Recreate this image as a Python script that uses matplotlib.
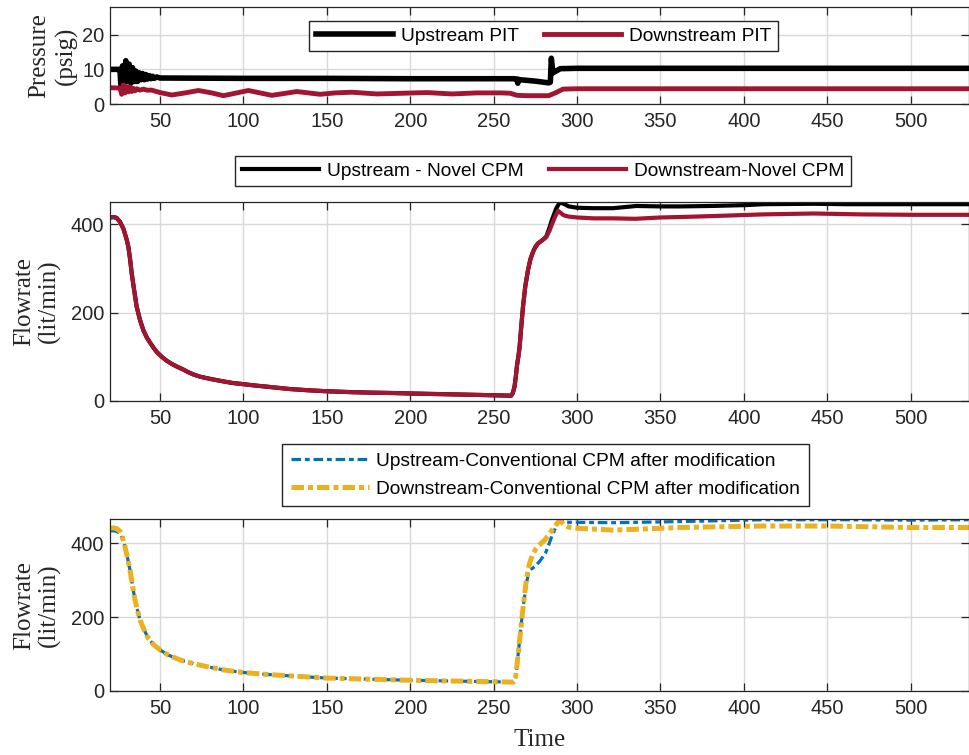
import matplotlib
matplotlib.use("Agg")
import matplotlib.pyplot as plt

# ---------------- data ----------------
# Panel 1: pressure (psig)
t_up_pit = [20, 25, 26, 26.5, 27.5, 28.5, 29.5, 30.5, 31.5, 32.5, 33.5, 34.5, 35.5, 36.5,
            37.5, 38.5, 39.5, 40.5, 41.5, 42.5, 43.5, 44.5, 45.5, 46.5, 48, 50, 100, 150,
            200, 262, 264, 264.5, 265, 266, 275, 283, 284, 284.6, 285.5, 287, 290, 300,
            400, 535]
p_up_pit = [10, 10, 9.8, 5.5, 11, 6, 12.5, 6.5, 11.5, 6, 10.5, 6.5, 9.5, 6.5,
            9, 7, 8.8, 7, 8.5, 7.2, 8.2, 7.3, 8, 7.4, 7.8, 7.5, 7.4, 7.4,
            7.3, 7.3, 7.2, 6.0, 7.1, 7.0, 6.6, 6.1, 6.3, 13.2, 9.0, 9.4, 10.2, 10.3,
            10.3, 10.3]

t_dn_pit = [20, 26, 27, 28, 29, 30, 31, 32, 33, 34, 35, 36, 38, 40, 42, 45, 50, 57, 65,
            73, 80, 88, 95, 103, 110, 117, 124, 132, 139, 146, 155, 165, 180, 195, 210,
            225, 240, 255, 260, 264, 270, 283, 287, 291.6, 300, 400, 535]
p_dn_pit = [4.7, 4.6, 2.8, 5.5, 3.2, 5.0, 3.5, 4.8, 3.6, 4.5, 3.8, 4.4, 4.0, 4.3, 4.0,
            4.0, 3.3, 2.6, 3.2, 3.9, 3.3, 2.4, 3.1, 3.9, 3.2, 2.5, 3.0, 3.6, 3.2, 2.8,
            3.2, 3.4, 2.9, 3.1, 3.3, 2.9, 3.2, 3.2, 3.1, 2.5, 2.4, 2.4, 3.2, 4.3, 4.4,
            4.4, 4.4]

# Panel 2: novel CPM flowrate (lit/min)
t_novel_dn = [20, 22, 24, 26, 28, 30, 31, 32, 33, 34.5, 36, 38, 40, 42, 44, 46, 48, 51,
              54, 57, 60, 64, 67, 70, 74, 80, 87, 93, 100, 107, 115, 128, 140, 150, 165,
              175, 190, 200, 225, 250, 260.5, 261.5, 262.5, 263.3, 264, 265, 265.6, 266.6,
              267.6, 269, 270.6, 272, 273.6, 275, 276.5, 278.6, 280, 281.6, 283.5, 285,
              287, 288.6, 290, 292, 295, 300, 310, 321.6, 335, 350, 361.6, 380, 411.6,
              442, 470, 502, 535]
q_novel_dn = [415, 416, 414, 405, 390, 365, 349, 322, 289, 250, 213, 183, 160, 144, 132,
              121, 111, 100, 91, 84, 78, 71, 65, 60, 55, 50, 45, 41, 38, 35, 32, 27, 24,
              22, 20, 19, 18, 17, 15, 13, 12, 18, 32, 55, 80, 105, 123, 170, 213, 260,
              296, 320, 337, 348, 356, 362, 366, 371, 385, 400, 418, 430, 426, 420, 417,
              415, 413, 413, 412, 415, 416, 418, 422, 424, 422, 421, 421]

t_novel_up = [20, 22, 24, 26, 28, 30, 31, 32, 33, 34.5, 36, 38, 40, 42, 44, 46, 48, 51,
              54, 57, 60, 64, 67, 70, 74, 80, 87, 93, 100, 107, 115, 128, 140, 150, 165,
              175, 190, 200, 225, 250, 260.5, 261.5, 262.5, 263.3, 264, 265, 265.6, 266.6,
              267.6, 269, 270.6, 272, 273.6, 275, 276.5, 278.6, 280, 281.6, 283.5, 285,
              287.5, 289.6, 292, 295, 300, 310, 321.6, 335.6, 350, 361.6, 380, 401.6,
              411.6, 442, 461.6, 502, 535]
q_novel_up = [415, 416, 414, 405, 390, 365, 349, 322, 289, 250, 213, 183, 160, 144, 132,
              121, 111, 100, 91, 84, 78, 71, 65, 60, 55, 50, 45, 41, 38, 35, 32, 27, 24,
              22, 20, 19, 18, 17, 15, 13, 12, 18, 32, 55, 80, 105, 123, 170, 213, 260,
              296, 320, 337, 348, 356, 362, 366, 372, 392, 410, 435, 449, 446, 440, 437,
              436, 436, 441, 440, 440, 441, 443, 445, 446, 445, 445, 445]

# Panel 3: conventional CPM flowrate (lit/min)
t_conv_dn = [20, 22, 24, 26, 27.5, 29, 30.5, 32, 33.5, 35, 36.5, 38, 40, 43, 46, 50, 55,
             62, 70, 78, 88, 100, 113, 127.6, 150, 175, 200, 225, 250, 262, 263, 264,
             265.6, 267.5, 269.6, 271.5, 273.6, 275.5, 277, 280.6, 283, 285, 287.5, 289.6,
             291, 292, 295, 300, 321.6, 340, 361.6, 411.6, 450, 500, 535]
q_conv_dn = [440, 441, 439, 432, 415, 390, 360, 327, 285, 246, 218, 192, 170, 142, 126,
             111, 97, 84, 74, 66, 57, 50, 45, 41, 35, 32, 29, 27, 25, 24, 30, 70, 138,
             220, 300, 345, 372, 385, 393, 408, 422, 435, 450, 462, 455, 450, 443, 440,
             435, 438, 442, 446, 446, 442, 442]

t_conv_up = [20, 22, 24, 26, 27.5, 29, 30.5, 32, 33.5, 35, 36.5, 38, 40, 43, 46, 50, 55,
             62, 70, 78, 88, 100, 113, 127.6, 150, 175, 200, 225, 250, 262, 263, 264,
             265.6, 267.5, 269.6, 271, 272, 274.6, 277.5, 281, 283, 285, 287.5, 289.6,
             292, 295, 300, 321.6, 361.6, 411.6, 461, 500, 535]
q_conv_up = [433, 433, 432, 425, 410, 390, 360, 327, 285, 246, 218, 192, 170, 142, 126,
             111, 97, 84, 74, 66, 57, 50, 45, 41, 35, 32, 29, 27, 25, 24, 30, 70, 138,
             220, 290, 320, 328, 336, 350, 372, 395, 420, 445, 462, 458, 456, 456, 455,
             458, 463, 463, 462, 463]

x_ticks = [50, 100, 150, 200, 250, 300, 350, 400, 450, 500]
p_ticks = [0, 10, 20]
q_ticks = [0, 200, 400]

# ---------------- style ----------------
BLACK = "#000000"
RED = "#A2142F"
BLUE = "#0072BD"
YELLOW = "#EDB120"
SANS = ["Liberation Sans", "DejaVu Sans"]
SERIF = ["Liberation Serif", "DejaVu Serif"]
DARK = "#262626"

plt.rcParams["font.family"] = SANS
plt.rcParams["axes.linewidth"] = 0.9

fig = plt.figure(figsize=(9.69, 7.55), dpi=100)
W, H = 969.0, 755.0

def make_ax(top_px, bot_px):
    left = 110 / W
    return fig.add_axes([left, 1 - bot_px / H, 1.0 - left, (bot_px - top_px) / H])

ax1 = make_ax(7, 104)
ax2 = make_ax(202, 401)
ax3 = make_ax(519, 691)

def style(ax, ylim, yticks):
    ax.set_xlim(20, 535)
    ax.set_ylim(*ylim)
    ax.set_xticks(x_ticks)
    ax.set_yticks(yticks)
    ax.grid(True, color="#d9d9d9", linewidth=1.0)
    ax.set_axisbelow(True)
    ax.tick_params(direction="in", length=6, width=0.9, top=True, right=True,
                   labelsize=14.5, colors=DARK)
    ax.tick_params(axis="x", pad=6)
    ax.tick_params(axis="y", pad=4)
    for s in ax.spines.values():
        s.set_color(DARK)

style(ax1, (0, 28), p_ticks)
style(ax2, (0, 450), q_ticks)
style(ax3, (0, 465), q_ticks)

leg_kw = dict(bbox_transform=fig.transFigure, loc="center", fontsize=13.8,
              handlelength=4.05, fancybox=False, framealpha=1, edgecolor=DARK,
              borderpad=0.35, handletextpad=0.4)

# Panel 1
ax1.plot(t_up_pit, p_up_pit, color=BLACK, lw=4, label="Upstream PIT", solid_joinstyle="round")
ax1.plot(t_dn_pit, p_dn_pit, color=RED, lw=3.5, label="Downstream PIT", solid_joinstyle="round")
ax1.set_ylabel("Pressure\n(psig)", fontfamily=SERIF, fontsize=18, labelpad=3,
               linespacing=1.25, color=DARK)
ax1.legend(bbox_to_anchor=(543.5 / W, 1 - 36 / H), ncol=2, columnspacing=1.3, **leg_kw)

# Panel 2
ax2.plot(t_novel_up, q_novel_up, color=BLACK, lw=3, label="Upstream - Novel CPM")
ax2.plot(t_novel_dn, q_novel_dn, color=RED, lw=3, label="Downstream-Novel CPM")
ax2.set_ylabel("Flowrate\n(lit/min)", fontfamily=SERIF, fontsize=18, labelpad=7,
               linespacing=1.15, color=DARK)
ax2.legend(bbox_to_anchor=(543 / W, 1 - 171 / H), ncol=2, columnspacing=1.3, **leg_kw)

# Panel 3
l1, = ax3.plot(t_conv_up, q_conv_up, color=BLUE, lw=2.3,
               label="Upstream-Conventional CPM after modification")
l1.set_dashes((3, 1.2, 1.5, 1.2))
l2, = ax3.plot(t_conv_dn, q_conv_dn, color=YELLOW, lw=3.6,
               label="Downstream-Conventional CPM after modification")
l2.set_dashes((2.5, 0.8, 1, 0.8))
ax3.set_ylabel("Flowrate\n(lit/min)", fontfamily=SERIF, fontsize=18, labelpad=7,
               linespacing=1.15, color=DARK)
ax3.set_xlabel("Time", fontfamily=SERIF, fontsize=18, labelpad=8, color=DARK)
ax3.legend(bbox_to_anchor=(545.5 / W, 1 - 475 / H), ncol=1, labelspacing=0.55,
           **{**leg_kw, "borderpad": 0.45})

fig.savefig("out.png", dpi=100)
